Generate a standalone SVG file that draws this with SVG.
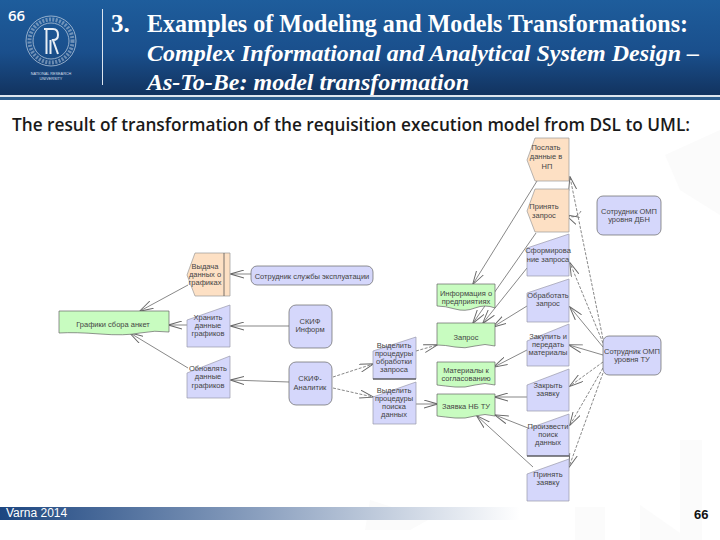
<svg xmlns="http://www.w3.org/2000/svg" width="720" height="540" viewBox="0 0 720 540">
<style>
.title{font-family:"Liberation Serif",serif;font-size:25px;font-weight:700;fill:#fff}
.it{font-style:italic;font-size:24px}
.t{font-family:"Liberation Sans",sans-serif;font-size:7.5px;fill:#444;text-anchor:middle}
.or{fill:#fde0c4;stroke:#999;stroke-width:.7}
.bl{fill:#d5d7fb;stroke:#999aaa;stroke-width:.7}
.gr{fill:#c8fcc0;stroke:#666;stroke-width:.7}
.ro{fill:#d5d7fb;stroke:#666;stroke-width:.7}
.c{fill:none;stroke:#555;stroke-width:.7;marker-end:url(#a)}
.d{stroke-dasharray:3 1.5}
.w{fill:#fbfbfb}
</style>
<defs>
<linearGradient id="hd" x1="0" y1="0" x2="0" y2="1"><stop offset="0" stop-color="#1e5d9c"/><stop offset=".55" stop-color="#1a4f8c"/><stop offset="1" stop-color="#12335f"/></linearGradient>
<linearGradient id="ft" x1="0" y1="0" x2="1" y2="0"><stop offset="0" stop-color="#1d4680"/><stop offset=".5" stop-color="#8ba0bf"/><stop offset="1" stop-color="#fff"/></linearGradient>
<marker id="a" viewBox="0 0 10 10" refX="9.5" refY="5" markerWidth="14" markerHeight="9" orient="auto" markerUnits="userSpaceOnUse" preserveAspectRatio="none"><path d="M0 .5 L10 5 L0 9.5" fill="none" stroke="#666" stroke-width="1"/></marker>
</defs>
<rect width="720" height="540" fill="#fff"/>
<g id="watermark">
<path class="w" d="M665 155L720 130V215L680 190Z"/>
<path class="w" d="M370 500L395 508H450L410 530H365Z"/>
<rect class="w" x="575" y="507" width="30" height="33"/>
<path class="w" d="M640 505L690 540H640Z"/>
<rect class="w" x="680" y="440" width="22" height="100"/>
</g>
<g id="header">
<rect width="720" height="95" fill="url(#hd)"/>
<rect y="95" width="720" height="2" fill="#dfe6ee"/>
<rect y="97" width="720" height="3" fill="#2f5f8f"/>
<text x="8" y="21" font-family="Open Sans,sans-serif" font-size="15" font-weight="600" fill="#fff">66</text>
<g id="logo" fill="none" stroke="#b4c5d9">
<circle cx="51" cy="41" r="25" stroke-width=".8"/>
<circle cx="51" cy="41" r="21.5" stroke-width="4" stroke-dasharray="2 1.4" opacity=".55"/>
<circle cx="51" cy="41" r="18" stroke-width=".8"/>
<path d="M44 29H53Q58 29 58 35Q58 40 53 40L58 54M46.5 29V54M50.5 40V54" stroke="#e8eef5" stroke-width="2"/>
</g>
<text x="51" y="75" font-family="Liberation Sans,sans-serif" font-size="3.8" fill="#d5deea" text-anchor="middle">NATIONAL RESEARCH</text>
<text x="51" y="80" font-family="Liberation Sans,sans-serif" font-size="3.8" fill="#d5deea" text-anchor="middle">UNIVERSITY</text>
<rect x="102" y="9" width="1" height="76" fill="#dce5ef"/>
<text class="title" x="111" y="32">3.</text>
<text class="title" x="147" y="32" textLength="541" lengthAdjust="spacingAndGlyphs">Examples of Modeling and Models Transformations:</text>
<text class="title it" x="147" y="61" textLength="552" lengthAdjust="spacingAndGlyphs">Complex Informational and Analytical System Design –</text>
<text class="title it" x="147" y="90" textLength="322" lengthAdjust="spacingAndGlyphs">As-To-Be: model transformation</text>
</g>
<text id="subtitle" x="12" y="131" font-family="Open Sans,sans-serif" font-size="18" font-weight="600" fill="#1a1a1a" textLength="678" lengthAdjust="spacingAndGlyphs">The result of transformation of the requisition execution model from DSL to UML:</text>
<g id="connectors">
<path class="c" d="M537 181L473 284"/>
<path class="c" d="M536 233L473 323"/>
<path class="c" d="M527 268L483 323"/>
<path class="c" d="M527 306L493 327"/>
<path class="c d" d="M603 339L570 177"/>
<path class="c d" d="M581 211Q576 220 566 215"/>
<path class="c d" d="M603 343L570 263"/>
<path class="c" d="M603 347L570 307"/>
<path class="c" d="M603 355L569 345"/>
<path class="c d" d="M603 362L570 386"/>
<path class="c d" d="M603 368L570 425"/>
<path class="c d" d="M603 373L569 467"/>
<path class="c" d="M527 350L494 367"/>
<path class="c" d="M527 397L495 397"/>
<path class="c" d="M528 428L495 415"/>
<path class="c" d="M533 467L477 416"/>
<path class="c d" d="M416 351L437 345"/>
<path class="c" d="M416 404L437 404"/>
<path class="c d" d="M333 377L373 364"/>
<path class="c d" d="M333 388L373 397"/>
<path class="c" d="M251 274L231 274"/>
<path class="c" d="M289 326L231 326"/>
<path class="c" d="M289 382L231 380"/>
<path class="c" d="M188 285L140 311"/>
<path class="c" d="M187 325L169 325"/>
<path class="c" d="M188 368L130 333"/>
</g>
<g id="n1"><path class="or" d="M535 138H569V181H535L527 160Z"/><text class="t" x="546" y="150">Послать</text><text class="t" x="546" y="159">данные в</text><text class="t" x="547" y="169">НП</text></g>
<g id="n2"><path class="or" d="M535 189H569V232H535L527 211Z"/><text class="t" x="544" y="209">Принять</text><text class="t" x="544" y="218">запрос</text></g>
<g id="n3"><path class="bl" d="M527 248L569 234V276H527Z"/><text class="t" x="548" y="253">Сформирова</text><text class="t" x="548" y="262">ние запроса</text></g>
<g id="n4"><path class="bl" d="M527 293L569 279V322H527Z"/><text class="t" x="548" y="298">Обработать</text><text class="t" x="548" y="306">запрос</text></g>
<g id="n5"><path class="bl" d="M527 341L569 324V366H527Z"/><text class="t" x="548" y="339">Закупить и</text><text class="t" x="548" y="347">передать</text><text class="t" x="548" y="355">материалы</text></g>
<g id="n6"><path class="bl" d="M527 385L569 369V411H527Z"/><text class="t" x="548" y="388">Закрыть</text><text class="t" x="548" y="396">заявку</text></g>
<g id="n7"><path class="bl" d="M527 429L569 414V456H527Z"/><path d="M527 456H569" stroke="#333" fill="none"/><text class="t" x="548" y="429">Произвести</text><text class="t" x="548" y="437">поиск</text><text class="t" x="548" y="445">данных</text></g>
<g id="n8"><path class="bl" d="M527 474L569 459V501H527Z"/><text class="t" x="548" y="477">Принять</text><text class="t" x="548" y="485">заявку</text></g>
<g id="d1"><path class="gr" d="M437 284H495V308Q485 304 475 308T455 309T437 306Z"/><text class="t" x="466" y="296">Информация о</text><text class="t" x="466" y="304">предприятиях</text></g>
<g id="d2"><path class="gr" d="M437 323H495V346Q485 343 475 346T455 347T437 345Z"/><text class="t" x="466" y="340">Запрос</text></g>
<g id="d3"><path class="gr" d="M437 362H495V385Q485 382 475 385T455 387T437 385Z"/><text class="t" x="466" y="373">Материалы к</text><text class="t" x="466" y="381">согласованию</text></g>
<g id="d4"><path class="gr" d="M437 394H495V416Q485 413 475 416T455 418T437 416Z"/><text class="t" x="466" y="409">Заявка НБ ТУ</text></g>
<g id="d5"><path class="gr" d="M59 311H169V332Q155 330 140 333T100 334T59 333Z"/><text class="t" x="113" y="327">Графики сбора анкет</text></g>
<g id="r1"><rect class="ro" x="597" y="196" width="64" height="39" rx="6"/><text class="t" x="629" y="214">Сотрудник ОМП</text><text class="t" x="629" y="222">уровня ДБН</text></g>
<g id="r2"><rect class="ro" x="603" y="336" width="58" height="39" rx="6"/><text class="t" x="632" y="354">Сотрудник ОМП</text><text class="t" x="632" y="362">уровня ТУ</text></g>
<g id="n9"><path class="or" d="M195 253H230V296H195L187 275Z"/><path d="M224 253V296" stroke="#555" stroke-width=".8" fill="none"/><text class="t" x="205" y="269">Выдача</text><text class="t" x="205" y="277">данных о</text><text class="t" x="205" y="285">графиках</text></g>
<g id="n10"><path class="bl" d="M187 320L230 305V347H187Z"/><text class="t" x="208" y="320">Хранить</text><text class="t" x="208" y="328">данные</text><text class="t" x="208" y="336">графиков</text></g>
<g id="n11"><path class="bl" d="M187 373L230 356V398H187Z"/><text class="t" x="208" y="371">Обновлять</text><text class="t" x="208" y="379">данные</text><text class="t" x="208" y="388">графиков</text></g>
<g id="r3"><rect class="ro" x="251" y="266" width="122" height="19" rx="6"/><text class="t" x="312" y="279">Сотрудник службы эксплуатации</text></g>
<g id="r4"><rect class="ro" x="289" y="305" width="43" height="43" rx="7"/><text class="t" x="310" y="324">СКИФ</text><text class="t" x="310" y="332">Информ</text></g>
<g id="r5"><rect class="ro" x="289" y="362" width="43" height="43" rx="7"/><text class="t" x="310" y="381">СКИФ-</text><text class="t" x="310" y="390">Аналитик</text></g>
<g id="n12"><path class="bl" d="M373 351L416 337V379H373Z"/><path d="M373 379H416" stroke="#333" fill="none"/><text class="t" x="394" y="348">Выделить</text><text class="t" x="394" y="356">процедуры</text><text class="t" x="394" y="364">обработки</text><text class="t" x="394" y="372">запроса</text></g>
<g id="n13"><path class="bl" d="M373 397L416 382V424H373Z"/><text class="t" x="394" y="393">Выделить</text><text class="t" x="394" y="401">процедуры</text><text class="t" x="394" y="409">поиска</text><text class="t" x="394" y="417">данных</text></g>
<g id="footer">
<rect y="507" width="520" height="13" fill="url(#ft)"/>
<text x="6" y="517" font-family="Liberation Sans,sans-serif" font-size="12" fill="#fff">Varna 2014</text>
<text x="694" y="519" font-family="Liberation Sans,sans-serif" font-size="13" font-weight="700" fill="#111">66</text>
</g>
</svg>
